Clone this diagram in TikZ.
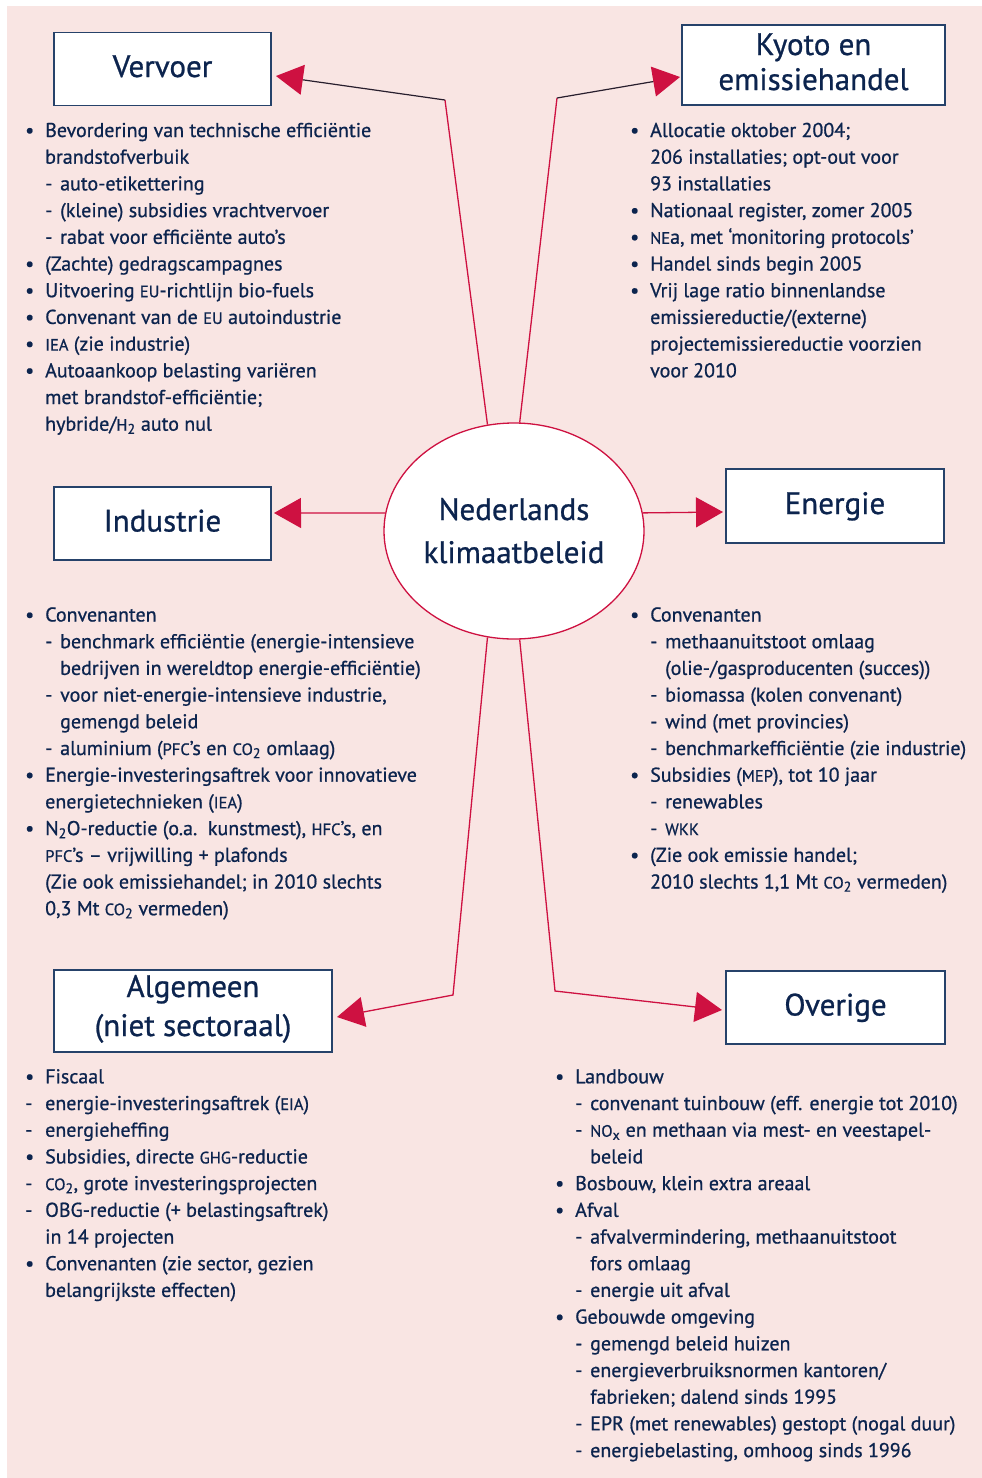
\documentclass[tikz,border=0pt]{standalone}
\usepackage{fontspec}
\setmainfont[FakeBold=0.8]{PT Sans}
\usetikzlibrary{arrows.meta,shapes.geometric}
\definecolor{bgpink}{RGB}{249,229,227}
\definecolor{navy}{RGB}{12,36,78}
\definecolor{boxline}{RGB}{38,66,106}
\definecolor{crim}{RGB}{206,17,65}
\definecolor{darkseg}{RGB}{40,30,45}
\newcommand\sca[1]{{\fontsize{16.5}{20}\selectfont #1}}
\newcommand\itB{\makebox[20pt][l]{\textbullet}}
\newcommand\itD{\hspace*{20pt}\makebox[15pt][l]{-}}
\newcommand\itC{\hspace*{20pt}}
\newcommand\itE{\hspace*{35pt}}
\newcommand\itA{\makebox[20pt][l]{-}}
\begin{document}
\begin{tikzpicture}[x=1pt,y=-1pt,
  box/.style={draw=boxline, line width=1.2pt, fill=white, inner sep=0pt, text=navy,
    font=\fontsize{31}{35}\selectfont, text height=24pt, text depth=8pt},
  blk/.style={anchor=base west, inner sep=0pt, text=navy, font=\fontsize{20}{26.7}\selectfont},
  conn/.style={draw=crim, line width=1.3pt},
  darkconn/.style={draw=darkseg, line width=1.2pt},
  tipr/.style={-{Triangle[length=27pt,width=30pt,color=crim]}}
]
\useasboundingbox (0,0) rectangle (982,1478);
\fill[bgpink] (7,6) rectangle (982,1478);

% boxes
\node[box, minimum width=217pt, minimum height=73pt] (vervoer) at (162.5,69) {Vervoer};
\node[box, minimum width=263pt, minimum height=80pt, text height=24pt, text depth=44pt] (kyoto) at (813.5,65)
  {\begin{tabular}[t]{@{}c@{}}Kyoto en\\emissiehandel\end{tabular}};
\node[box, minimum width=217pt, minimum height=73pt] (industrie) at (162.5,523.5) {Industrie};
\node[box, minimum width=218pt, minimum height=74pt] (energie) at (835,506) {Energie};
\node[box, minimum width=278pt, minimum height=82pt, text height=24pt, text depth=52pt, font=\fontsize{31}{39}\selectfont] (algemeen) at (193,1011)
  {\begin{tabular}[t]{@{}c@{}}Algemeen\\(niet sectoraal)\end{tabular}};
\node[box, minimum width=219pt, minimum height=73pt] (overige) at (835.5,1007.5) {Overige};

% central ellipse
\node[ellipse, draw=crim, line width=1.3pt, fill=white, minimum width=260pt, minimum height=216pt, inner sep=0pt] (ell) at (514,531) {};
\node[anchor=base, inner sep=0pt, text=navy, font=\fontsize{31}{43}\selectfont] (elltext) at (514,520)
  {\begin{tabular}[t]{@{}c@{}}Nederlands\\klimaatbeleid\end{tabular}};

% corner and tip coordinates
\coordinate (cV) at (445,100);
\coordinate (tV) at (276,76);
\coordinate (cK) at (557,98);
\coordinate (tK) at (680,77);
\coordinate (tI) at (274,513);
\coordinate (tE) at (723,512);
\coordinate (cA) at (453,995);
\coordinate (tA) at (337,1017);
\coordinate (cO) at (555,991);
\coordinate (tO) at (722,1010);

% connectors
\draw[conn] (ell.104) -- (cV);
\draw[darkconn, tipr] (cV) -- (tV);
\draw[conn] (ell.87) -- (cK);
\draw[darkconn, tipr] (cK) -- (tK);
\draw[conn, tipr] (ell.172) -- (tI);
\draw[conn, tipr] (ell.8) -- (tE);
\draw[conn, tipr] (ell.256) -- (cA) -- (tA);
\draw[conn, tipr] (ell.273) -- (cO) -- (tO);

% text blocks
\node[blk] (tvervoer) at (25,137) {\begin{tabular}[t]{@{}l@{}}
\itB Bevordering van technische efficiëntie\\
\itC brandstofverbuik\\
\itD auto-etikettering\\
\itD (kleine) subsidies vrachtvervoer\\
\itD rabat voor efficiënte auto’s\\
\itB (Zachte) gedragscampagnes\\
\itB Uitvoering \sca{EU}-richtlijn bio-fuels\\
\itB Convenant van de \sca{EU} autoindustrie\\
\itB \sca{IEA} (zie industrie)\\
\itB Autoaankoop belasting variëren\\
\itC met brandstof-efficiëntie;\\
\itC hybride/\sca{H}\textsubscript{2} auto nul
\end{tabular}};

\node[blk] (tkyoto) at (630,137) {\begin{tabular}[t]{@{}l@{}}
\itB Allocatie oktober 2004;\\
\itC 206 installaties; opt-out voor\\
\itC 93 installaties\\
\itB Nationaal register, zomer 2005\\
\itB \sca{NE}a, met ‘monitoring protocols’\\
\itB Handel sinds begin 2005\\
\itB Vrij lage ratio binnenlandse\\
\itC emissiereductie/(externe)\\
\itC projectemissiereductie voorzien\\
\itC voor 2010
\end{tabular}};

\node[blk] (tindustrie) at (25,621.5) {\begin{tabular}[t]{@{}l@{}}
\itB Convenanten\\
\itD benchmark efficiëntie (energie-intensieve\\
\itE bedrijven in wereldtop energie-efficiëntie)\\
\itD voor niet-energie-intensieve industrie,\\
\itE gemengd beleid\\
\itD aluminium (\sca{PFC}’s en \sca{CO}\textsubscript{2} omlaag)\\
\itB Energie-investeringsaftrek voor innovatieve\\
\itC energietechnieken (\sca{IEA})\\
\itB N\textsubscript{2}O-reductie (o.a.\ \ kunstmest), \sca{HFC}’s, en\\
\itC \sca{PFC}’s – vrijwilling + plafonds\\
\itC (Zie ook emissiehandel; in 2010 slechts\\
\itC 0,3 Mt \sca{CO}\textsubscript{2} vermeden)
\end{tabular}};

\node[blk] (tenergie) at (630,621.5) {\begin{tabular}[t]{@{}l@{}}
\itB Convenanten\\
\itD methaanuitstoot omlaag\\
\itE (olie-/gasproducenten (succes))\\
\itD biomassa (kolen convenant)\\
\itD wind (met provincies)\\
\itD benchmarkefficiëntie (zie industrie)\\
\itB Subsidies (\sca{MEP}), tot 10 jaar\\
\itD renewables\\
\itD \sca{WKK}\\
\itB (Zie ook emissie handel;\\
\itC 2010 slechts 1,1 Mt \sca{CO}\textsubscript{2} vermeden)
\end{tabular}};

\node[blk] (talgemeen) at (25,1083.3) {\begin{tabular}[t]{@{}l@{}}
\itB Fiscaal\\
\itA energie-investeringsaftrek (\sca{EIA})\\
\itA energieheffing\\
\itB Subsidies, directe \sca{GHG}-reductie\\
\itA \sca{CO}\textsubscript{2}, grote investeringsprojecten\\
\itA OBG-reductie (+ belastingsaftrek)\\
\itC in 14 projecten\\
\itB Convenanten (zie sector, gezien\\
\itC belangrijkste effecten)
\end{tabular}};

\node[blk] (toverige) at (555,1083.3) {\begin{tabular}[t]{@{}l@{}}
\itB Landbouw\\
\itD convenant tuinbouw (eff. energie tot 2010)\\
\itD \sca{NO}\textsubscript{x} en methaan via mest- en veestapel-\\
\itE beleid\\
\itB Bosbouw, klein extra areaal\\
\itB Afval\\
\itD afvalvermindering, methaanuitstoot\\
\itE fors omlaag\\
\itD energie uit afval\\
\itB Gebouwde omgeving\\
\itD gemengd beleid huizen\\
\itD energieverbruiksnormen kantoren/\\
\itE fabrieken; dalend sinds 1995\\
\itD EPR (met renewables) gestopt (nogal duur)\\
\itD energiebelasting, omhoog sinds 1996
\end{tabular}};
\end{tikzpicture}
\end{document}
